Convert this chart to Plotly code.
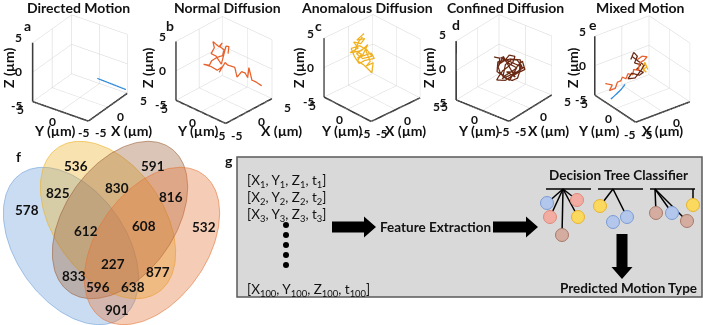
import numpy as np
import plotly.graph_objects as go

W, H = 703, 325

# ---------------- data: trajectories (µm) ----------------
dir_x = [1.54, 3.12, 4.70]
dir_y = [-2.03, -3.49, -4.95]
dir_z = [-1.82, -3.03, -4.25]

nd_x = [3.42, 2.97, 2.62, 2.96, 2.28, 2.24, 1.91, 1.10, 1.37, 0.68, 0.54, -0.68, -0.05, -0.77, -1.30, -2.01,
        -1.41, -0.89, -0.10, 0.63, 1.11, 0.79, 1.29, 0.69, 0.29, 0.11, -0.57, -0.14, 0.01, 1.52, 1.83, 1.34]
nd_y = [-4.38, -3.61, -3.17, -2.24, -2.64, -2.16, -1.76, -1.60, -0.89, -0.09, 0.27, 0.34, 0.34, 0.63, 1.43, 2.23,
        1.64, 1.64, 1.30, 0.87, 1.02, 1.58, 1.54, 1.65, 2.50, 2.05, 2.05, 1.46, 0.55, 1.02, 0.72, 0.44]
nd_z = [-2.41, -1.84, -1.58, 0.04, -1.22, -0.61, -0.39, -1.04, 0.23, 0.59, 0.94, -0.24, 0.41, 0.04, 0.59, 0.94,
        0.76, 1.31, 1.67, 1.84, 2.57, 3.01, 3.47, 3.01, 3.72, 2.93, 2.21, 1.84, 0.76, 3.01, 2.93, 2.03]

an_x = [0.84, -0.30, 0.67, -0.03, -0.76, -0.55, -1.73, -0.35, 0.72, -0.37, -1.17, 0.68, 0.75, -0.46, -1.25, -1.42,
        -1.38, -0.29, 0.34, 0.59, -0.60, -1.04, 0.21, 0.13, -0.56, 0.40, -0.27, -0.51, -0.81, -1.29, -0.50, -1.11,
        -0.17, 0.49]
an_y = [2.59, 2.89, 2.25, 2.34, 3.10, 2.35, 2.86, 1.92, 1.63, 1.56, 1.90, 0.87, 0.29, 1.09, 1.44, 2.23,
        2.98, 2.35, 1.46, 0.63, 1.39, 2.20, 1.76, 0.51, 0.64, 0.17, -0.23, 0.35, 0.98, 1.73, 1.73, 2.51,
        2.64, 2.55]
an_z = [4.44, 3.65, 3.79, 3.18, 3.44, 2.64, 2.10, 2.28, 3.01, 1.74, 1.38, 1.92, 1.20, 1.01, 0.66, 1.56,
        2.64, 2.93, 2.36, 1.49, 1.27, 1.92, 2.64, 0.84, 0.29, 0.66, -0.61, -0.07, 0.48, 1.01, 1.84, 2.28,
        3.44, 4.01]

cd_x = [-0.48, 0.10, -0.32, 0.54, 1.34, 1.92, 1.33, 0.41, -0.31, -1.16, -1.52, -0.58, 0.20, 1.16, 2.27,
        2.48, 1.87, 1.17, 0.20, -0.65, 0.35, 1.30, 1.92, 2.13, 0.94, 0.20, -0.40, -0.70, -0.61, 0.59,
        0.73, 0.06, 1.47, 2.33, 1.23, -0.33, -0.99, -0.10, 1.45, 0.86, 0.25, 2.21, 0.81, -0.86]
cd_y = [1.50, 0.87, 0.67, 0.27, 0.09, -0.52, -0.59, -0.29, 0.00, 0.12, 0.14, -0.71, -1.05, -1.52, -2.11,
        -1.48, -1.28, -1.14, -0.71, -0.31, 0.02, -0.31, -0.87, -1.61, -1.80, -1.40, -0.66, 0.17, 0.63, 0.63,
        -1.51, -0.42, -1.70, -1.22, -0.19, 0.89, 0.51, -1.12, -1.24, -0.35, 0.82, -1.89, -1.25, -0.30]
cd_z = [1.55, 1.30, 0.58, 0.94, 1.55, 1.30, 0.58, 0.03, -0.33, -1.05, -1.41, -1.58, -1.23, -0.87, -0.50,
        0.58, 0.22, -0.33, -0.76, -1.12, 0.40, 0.94, 0.83, 0.03, -1.48, -1.70, -1.33, -0.50, 0.22, 1.48,
        -1.30, -0.52, -0.78, 0.78, 1.04, 0.87, -0.35, -1.65, -0.17, 0.43, 1.39, -0.26, -0.87, -1.30]

mx_dir_x = [-4.85, -4.13, -3.35, -2.70]
mx_dir_y = [1.25, 0.84, 0.69, 0.64]
mx_dir_z = [-4.00, -3.20, -2.59, -1.97]
mx_nd_x = [-4.45, -3.69, -4.27, -3.50, -2.96, -2.51, -2.17, -1.82, -1.36, -0.85, -0.51, 0.01, 0.44, 1.14, 1.61, 1.07, 0.36]
mx_nd_y = [3.15, 2.44, 2.36, 1.98, 2.15, 1.92, 2.01, 1.58, 1.70, 1.20, 1.45, 0.96, 1.31, 1.05, 0.99, 1.46, 1.69]
mx_nd_z = [-2.37, -2.55, -3.27, -2.99, -2.19, -2.01, -1.54, -1.76, -1.11, -1.25, -0.57, -0.67, 0.26, 0.63, 1.06, 1.13, 0.70]
mx_cd_x = [-0.40, 0.25, 0.51, -0.12, 0.53, -0.18, 0.51, -0.11, -0.91, -1.59, -0.73, 0.25, 0.91, 0.37, -0.10]
mx_cd_y = [2.28, 2.44, 1.89, 1.75, 1.09, 1.19, 0.40, 0.60, 1.40, 1.40, 0.82, 0.73, 0.75, 1.56, 2.31]
mx_cd_z = [0.70, 1.60, 1.13, 0.26, 0.05, -0.57, -0.92, -1.29, -1.04, -1.76, -1.65, -0.74, -0.02, 0.52, 1.06]
mx_an_x = [0.97, 1.16, 0.58, 0.85, 0.57, 1.12, 1.14]
mx_an_y = [0.83, 0.41, 0.61, 0.14, 0.80, 0.85, 0.17]
mx_an_z = [0.16, -0.21, -0.57, -0.92, -0.31, 0.34, -0.57]

panel_titles = ["Directed Motion", "Normal Diffusion", "Anomalous Diffusion", "Confined Diffusion", "Mixed Motion"]
panel_letters = ["a", "b", "c", "d", "e"]
axis_ticks = [-5, 0, 5]
axis_lim = [-5, 5]

# Venn counts
venn_counts = [578, 536, 591, 532, 825, 830, 816, 901, 612, 608, 833, 877, 596, 638, 227]

# ---------------- styles / layout geometry ----------------
C_DIR = "#2f8bdc"
C_ND = "#e8602a"
C_AN = "#f2b01e"
C_CD = "#6a2812"

FONT = "Lato"

fig = go.Figure()

fig.update_layout(
    xaxis=dict(domain=[0, 1], range=[0, W], visible=False, fixedrange=True),
    yaxis=dict(domain=[0, 1], range=[H, 0], visible=False, fixedrange=True),
)

# ----- Venn ellipses -----
ell_specs = [  # center x, center y, semi-major, semi-minor, angle(deg), base rgb
    (71, 246, 88, 55, 55, (110, 160, 217)),
    (108, 220, 88, 55, 55, (237, 177, 37)),
    (120, 220, 88, 55, 125, (157, 97, 57)),
    (152, 246, 88, 55, 125, (227, 117, 57)),
]
t = np.linspace(0, 2 * np.pi, 200)
for cx, cy, a, b, ang, rgb in ell_specs:
    th = np.deg2rad(ang)
    ex = cx + a * np.cos(t) * np.cos(th) - b * np.sin(t) * np.sin(th)
    ey = cy + a * np.cos(t) * np.sin(th) + b * np.sin(t) * np.cos(th)
    fig.add_trace(go.Scatter(
        x=ex, y=ey, mode="lines", fill="toself",
        fillcolor="rgba(%d,%d,%d,0.37)" % rgb,
        line=dict(color="rgba(%d,%d,%d,0.6)" % rgb, width=1),
        hoverinfo="skip", showlegend=False, xaxis="x", yaxis="y"))

venn_pos = [(27, 210), (76, 166), (153, 166), (204, 227), (58, 193), (117, 188), (171, 197), (117, 310),
            (86, 231), (144, 226), (74, 276), (158, 272), (98, 287), (133, 287), (113, 264)]
annotations = []
for v, (px, py) in zip(venn_counts, venn_pos):
    annotations.append(dict(x=px, y=py, xref="x", yref="y", text="<b>%d</b>" % v, showarrow=False,
                            font=dict(family=FONT, size=13.5, color="#111")))
annotations.append(dict(x=18, y=156, xref="x", yref="y", text="<b>f</b>", showarrow=False,
                        font=dict(family=FONT, size=14, color="#111")))

# ----- panel g -----
shapes = []
shapes.append(dict(type="rect", xref="x", yref="y", x0=237, y0=157, x1=702, y1=297,
                   fillcolor="#d9d9d9", line=dict(color="#595959", width=1.5), layer="below"))
annotations.append(dict(x=229, y=160, xref="x", yref="y", text="<b>g</b>", showarrow=False,
                        font=dict(family=FONT, size=14, color="#111")))

coord_lines = ["[X<sub>1</sub>, Y<sub>1</sub>, Z<sub>1</sub>, t<sub>1</sub>]",
               "[X<sub>2</sub>, Y<sub>2</sub>, Z<sub>2</sub>, t<sub>2</sub>]",
               "[X<sub>3</sub>, Y<sub>3</sub>, Z<sub>3</sub>, t<sub>3</sub>]"]
for i, s in enumerate(coord_lines):
    annotations.append(dict(x=245, y=181 + 17 * i, xref="x", yref="y", text=s, showarrow=False,
                            xanchor="left", font=dict(family=FONT, size=13.5, color="#111")))
annotations.append(dict(x=245, y=290, xref="x", yref="y",
                        text="[X<sub>100</sub>, Y<sub>100</sub>, Z<sub>100</sub>, t<sub>100</sub>]",
                        showarrow=False, xanchor="left", font=dict(family=FONT, size=13.5, color="#111")))
fig.add_trace(go.Scatter(x=[286] * 5, y=[225, 235, 245, 255, 265], mode="markers",
                         marker=dict(color="black", size=6), hoverinfo="skip", showlegend=False))


def block_arrow(x0, y0, x1, y1, shaft, head_w, head_l):
    d = np.array([x1 - x0, y1 - y0], float)
    L = np.hypot(*d)
    u = d / L
    n = np.array([-u[1], u[0]])
    p0 = np.array([x0, y0], float)
    hb = p0 + u * (L - head_l)
    pts = [p0 + n * shaft / 2, hb + n * shaft / 2, hb + n * head_w / 2, np.array([x1, y1], float),
           hb - n * head_w / 2, hb - n * shaft / 2, p0 - n * shaft / 2]
    return "M " + " L ".join("%.1f,%.1f" % (p[0], p[1]) for p in pts) + " Z"


for (ax0, ay0, ax1, ay1) in [(332, 227, 376, 227), (493, 227, 538, 227), (622, 234, 622, 279)]:
    shapes.append(dict(type="path", xref="x", yref="y", path=block_arrow(ax0, ay0, ax1, ay1, 11, 21, 12),
                       fillcolor="black", line=dict(width=0)))

annotations.append(dict(x=378, y=227, xref="x", yref="y", text="<b>Feature Extraction</b>", showarrow=False,
                        xanchor="left", font=dict(family=FONT, size=13.5, color="#111")))
annotations.append(dict(x=618, y=175, xref="x", yref="y", text="<b>Decision Tree Classifier</b>", showarrow=False,
                        font=dict(family=FONT, size=13.5, color="#111")))
annotations.append(dict(x=628, y=288, xref="x", yref="y", text="<b>Predicted Motion Type</b>", showarrow=False,
                        font=dict(family=FONT, size=13.5, color="#111")))

# decision trees
bars = [(546, 591), (598, 643), (650, 695)]
for bx0, bx1 in bars:
    fig.add_trace(go.Scatter(x=[bx0, bx1], y=[189, 189], mode="lines", line=dict(color="black", width=1.5),
                             hoverinfo="skip", showlegend=False))
node_col = {"b": ("#b3c7ec", "#7c9bd3"), "r": ("#f2aca2", "#df8a7c"),
            "y": ("#fbd85e", "#e6b42e"), "n": ("#d5ada0", "#a8796a")}
trees = [
    ((563, 189), [(547, 203, "b"), (577, 200, "r"), (550, 217, "r"), (578, 217, "y"), (562, 235, "n")], []),
    ((613, 189), [(600, 206, "y"), (627, 217, "b")], [(613, 222, "b")]),
    ((655, 189), [(656, 213, "n"), (672, 213, "b"), (687, 221, "n")], []),
]
for (apx, apy), kids, extra in trees:
    for kx, ky, kc in kids:
        fig.add_trace(go.Scatter(x=[apx, kx], y=[apy, ky], mode="lines", line=dict(color="black", width=1.5),
                                 hoverinfo="skip", showlegend=False))
fig.add_trace(go.Scatter(x=[693, 693], y=[189, 205], mode="lines", line=dict(color="black", width=1.5),
                         hoverinfo="skip", showlegend=False))
nodes = []
for (apx, apy), kids, extra in trees:
    nodes += kids + extra
nodes.append((693, 205, "y"))
for kx, ky, kc in nodes:
    fc, lc = node_col[kc]
    fig.add_trace(go.Scatter(x=[kx], y=[ky], mode="markers",
                             marker=dict(size=13, color=fc, line=dict(color=lc, width=1)),
                             hoverinfo="skip", showlegend=False))

# ----- 3D panels -----
panels = [
    [(dir_x, dir_y, dir_z, C_DIR)],
    [(nd_x, nd_y, nd_z, C_ND)],
    [(an_x, an_y, an_z, C_AN)],
    [(cd_x, cd_y, cd_z, C_CD)],
    [(mx_nd_x, mx_nd_y, mx_nd_z, C_ND), (mx_cd_x, mx_cd_y, mx_cd_z, C_CD),
     (mx_an_x, mx_an_y, mx_an_z, C_AN), (mx_dir_x, mx_dir_y, mx_dir_z, C_DIR)],
]
view_az = [55, 47, 44, 51, 37]         # azimuth of each panel's view (deg)
view_el = 30
k = 1.64
S_PX = 7.85                            # px per data unit at this zoom
box_c = [(80, 67), (224, 70), (372, 68), (504, 66), (644, 69)]   # box centre on page (px)
DOM_H = 136
title_x = [78, 227, 367, 505, 640]
letter_pos = [(27, 25), (170, 25), (318, 25), (456, 24), (593, 24)]
ytitle_x = [54, 197, 341, 478, 598]
xtitle_x = [131, 281, 405, 548, 662]
ztitle_x = [8, 147, 298, 428, 572]

lo, hi = axis_lim
edge_x = [lo, lo, None, lo, lo, None, lo, hi]
edge_y = [hi, hi, None, hi, lo, None, lo, lo]
edge_z = [lo, hi, None, lo, lo, None, lo, lo]
tick_font = dict(family=FONT, size=12, color="#111")

for i, traces in enumerate(panels):
    sid = "scene" if i == 0 else "scene%d" % (i + 1)
    fig.add_trace(go.Scatter3d(x=edge_x, y=edge_y, z=edge_z, mode="lines", line=dict(color="#262626", width=3),
                               hoverinfo="skip", showlegend=False, scene=sid))
    for (xs, ys, zs, col) in traces:
        fig.add_trace(go.Scatter3d(x=xs, y=ys, z=zs, mode="lines", line=dict(color=col, width=2.5),
                                   hoverinfo="skip", showlegend=False, scene=sid))

    def ax():
        return dict(range=axis_lim, tickvals=axis_ticks, showticklabels=False,
                    showgrid=True, gridcolor="#d4d4d4", gridwidth=1, showline=False,
                    showbackground=False, zeroline=False, showspikes=False,
                    title=dict(text=""), autorange=False)
    bx, by = box_c[i]
    a = np.deg2rad(view_az[i])
    e = np.deg2rad(view_el)
    D = np.array([-np.sin(a) * np.cos(e), -np.cos(a) * np.cos(e), np.sin(e)])
    R = np.array([np.cos(a), -np.sin(a), 0.0])
    U = np.array([np.sin(e) * np.sin(a), np.sin(e) * np.cos(a), np.cos(e)])
    x0p, x1p = bx - 72, bx + 72
    shift = np.zeros(3)
    if x1p > W:
        x0p, x1p = W - 144, W
        shift = -R * (bx - (x0p + x1p) / 2) / 78.0
    y0p = by - DOM_H / 2
    y1p = by + DOM_H / 2
    if y0p < 0:
        y0p, y1p = 0, DOM_H
    eye = D * k + shift
    fig.layout[sid] = dict(
        domain=dict(x=[max(x0p, 0) / W, x1p / W], y=[(H - y1p) / H, (H - y0p) / H]),
        xaxis=ax(), yaxis=ax(), zaxis=ax(),
        aspectmode="cube", bgcolor="rgba(0,0,0,0)",
        camera=dict(eye=dict(x=eye[0], y=eye[1], z=eye[2]), up=dict(x=0, y=0, z=1),
                    center=dict(x=shift[0], y=shift[1], z=shift[2]),
                    projection=dict(type="orthographic")),
    )

    def proj(p):
        p = np.array(p, float)
        return bx + S_PX * R.dot(p), by - S_PX * U.dot(p)

    # tick labels (upright, as in the original)
    for tv in axis_ticks:
        px, py = proj([lo, hi, tv])
        annotations.append(dict(x=px - 1, y=py, xref="x", yref="y", text="<b>%d</b>" % tv, xanchor="right",
                                showarrow=False, font=tick_font))
        px, py = proj([lo, tv, lo])
        annotations.append(dict(x=px + 1, y=py + 4, xref="x", yref="y", text="<b>%d</b>" % tv,
                                xanchor="right", showarrow=False, font=tick_font))
        px, py = proj([tv, lo, lo])
        annotations.append(dict(x=px + 3, y=py + 4, xref="x", yref="y", text="<b>%d</b>" % tv,
                                xanchor="left", showarrow=False, font=tick_font))

    annotations.append(dict(x=title_x[i], y=7, xref="x", yref="y", text="<b>%s</b>" % panel_titles[i],
                            showarrow=False, font=dict(family=FONT, size=14, color="#111")))
    lx, ly = letter_pos[i]
    annotations.append(dict(x=lx, y=ly, xref="x", yref="y", text="<b>%s</b>" % panel_letters[i],
                            showarrow=False, font=dict(family=FONT, size=14, color="#111")))
    tf = dict(family=FONT, size=14, color="#111")
    annotations.append(dict(x=ytitle_x[i], y=130, xref="x", yref="y", text="<b>Y (µm)</b>",
                            showarrow=False, font=tf))
    annotations.append(dict(x=xtitle_x[i], y=130, xref="x", yref="y", text="<b>X (µm)</b>",
                            showarrow=False, font=tf))
    annotations.append(dict(x=ztitle_x[i], y=68, xref="x", yref="y", text="<b>Z (µm)</b>",
                            showarrow=False, textangle=-90, font=tf))

fig.update_layout(width=W, height=H, margin=dict(l=0, r=0, t=0, b=0), paper_bgcolor="white",
                  plot_bgcolor="rgba(0,0,0,0)", annotations=annotations, shapes=shapes, showlegend=False)
fig.write_html("out.html", config={"displayModeBar": False})
